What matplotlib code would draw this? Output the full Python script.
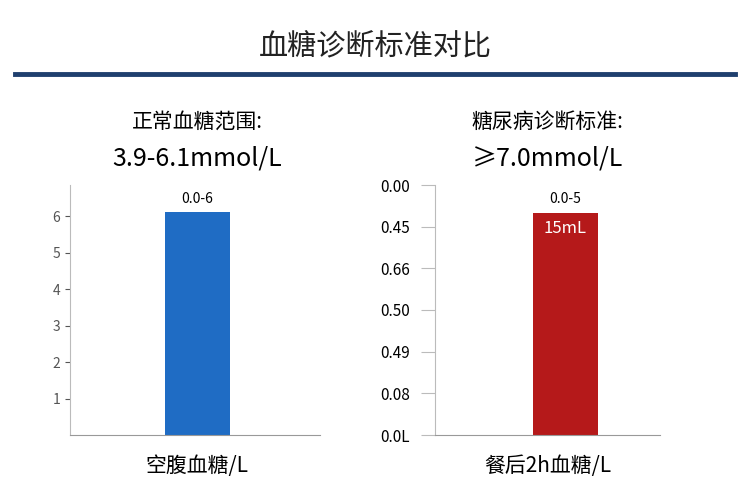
import matplotlib.pyplot as plt

plt.rcParams['font.family'] = ['Noto Sans CJK SC', 'DejaVu Sans']

# 数据
categories = ['空腹血糖/L', '餐后2h血糖/L']
values = [6.1, 7.0]
value_labels = ['0.0-6', '0.0-5']
panel_titles = ['正常血糖范围:', '糖尿病诊断标准:']
panel_ranges = ['3.9-6.1mmol/L', '≥7.0mmol/L']
bar_colors = ['#1f6cc4', '#b5191a']
right_ticks = ['0.0L', '0.08', '0.49', '0.50', '0.66', '0.45', '0.00']

fig = plt.figure(figsize=(7.5, 5), dpi=100)
fig.patch.set_facecolor('white')
fig.text(0.5, 0.905, '血糖诊断标准对比', ha='center', va='center', fontsize=21, color='#222222')
fig.add_artist(plt.Line2D([0.02, 0.98], [0.853, 0.853], color='#1f3f6e', lw=3.5))

ax1 = fig.add_axes([0.093, 0.13, 0.333, 0.5])
ax2 = fig.add_axes([0.58, 0.13, 0.30, 0.5])
xs = [0.02, 0.16]
widths = [0.52, 0.58]
centers = [0.263, 0.73]

for i, ax in enumerate([ax1, ax2]):
    ax.bar(xs[i], values[i], width=widths[i], color=bar_colors[i])
    ax.set_xlim(-1, 1)
    ax.set_ylim(0, values[i] / 0.89)
    ax.set_xticks([])
    for s in ['top', 'right']:
        ax.spines[s].set_visible(False)
    ax.spines['left'].set_color('#bbbbbb')
    ax.spines['bottom'].set_color('#999999')
    ax.text(xs[i], values[i] * 1.03, value_labels[i], ha='center', va='bottom', fontsize=10)
    fig.text(centers[i], 0.745, panel_titles[i], ha='center', fontsize=15)
    fig.text(centers[i], 0.67, panel_ranges[i], ha='center', fontsize=18)
    fig.text(centers[i], 0.055, categories[i], ha='center', fontsize=15)

ax1.set_yticks([1, 2, 3, 4, 5, 6])
ax1.tick_params(axis='y', labelsize=10, colors='#555555')

ymax = values[1] / 0.89
ax2.set_yticks([ymax * k / 6 for k in range(7)])
ax2.set_yticklabels(right_ticks, fontsize=11)
ax2.tick_params(axis='y', length=10, color='#bbbbbb', pad=8)
ax2.text(xs[1], values[1] * 0.93, '15mL', ha='center', va='center', color='white', fontsize=12)

fig.savefig('out.png', dpi=100)
